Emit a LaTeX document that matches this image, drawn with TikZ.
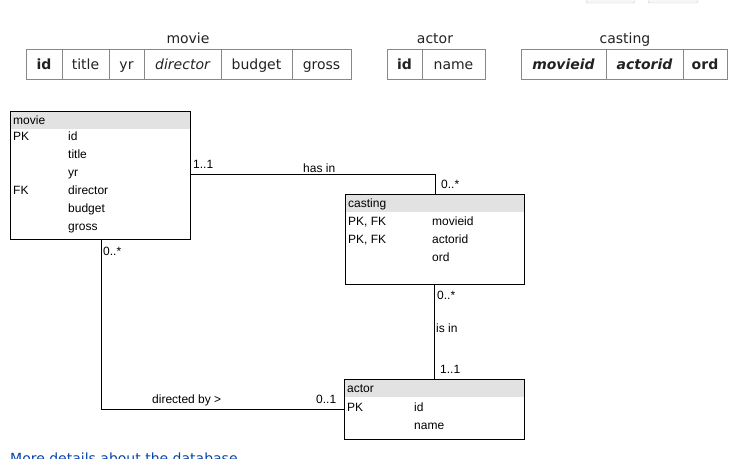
\documentclass[tikz,border=0pt]{standalone}
\usepackage{fontspec}
\newfontfamily\topfont{DejaVu Sans}
\newfontfamily\diafont{Liberation Sans}
\definecolor{tblline}{HTML}{888888}
\definecolor{tbltext}{HTML}{222222}
\definecolor{hdrgray}{HTML}{E2E2E2}
\definecolor{linkblue}{HTML}{0645AD}
\begin{document}
\begin{tikzpicture}[x=1pt,y=-1pt,
  cell/.style={draw=tblline, line width=1pt, inner sep=0pt, minimum height=30pt,
    text height=13pt, text depth=3pt, text=tbltext,
    font=\topfont\fontsize{14}{16}\selectfont},
  ttitle/.style={inner sep=0pt, anchor=base, text=tbltext,
    font=\topfont\fontsize{14}{16}\selectfont},
  entity/.style={draw=black, line width=1pt, inner sep=0pt, anchor=north west,
    path picture={\fill[hdrgray] (path picture bounding box.north west) rectangle
      ([yshift=-17pt]path picture bounding box.north east);}},
  lbl/.style={inner sep=0pt, anchor=base west, font=\diafont\fontsize{12}{14}\selectfont},
  conn/.style={draw=black, line width=1pt}
]
\useasboundingbox (0,0) rectangle (731,458);
\begin{scope}
\clip (0,0) rectangle (731,458);
% top buttons (cut off)
\draw[draw=black!20, fill=black!3, rounded corners=2pt] (586,-12) rectangle (635,3);
\draw[draw=black!20, fill=black!3, rounded corners=2pt] (648,-12) rectangle (698,3);
% bottom link (cut off)
\node[inner sep=0pt, anchor=base west, text=linkblue, font=\topfont\fontsize{14}{16}\selectfont]
  (more) at (10,463) {More details about the database};
\end{scope}

% ---------- top schema tables ----------
\node[ttitle] (tmovie) at (188,43) {movie};
\node[cell, minimum width=36pt, font=\topfont\bfseries\fontsize{14}{16}\selectfont] (mid) at (44,64) {id};
\node[cell, minimum width=47pt] (mtitle) at (85.5,64) {title};
\node[cell, minimum width=35pt] (myr) at (126.5,64) {yr};
\node[cell, minimum width=77pt, font=\topfont\itshape\fontsize{14}{16}\selectfont] (mdir) at (182.5,64) {director};
\node[cell, minimum width=71pt] (mbud) at (256.5,64) {budget};
\node[cell, minimum width=59pt] (mgross) at (321.5,64) {gross};

\node[ttitle] (tactor) at (435,43) {actor};
\node[cell, minimum width=35pt, font=\topfont\bfseries\fontsize{14}{16}\selectfont] (aid) at (404.5,64) {id};
\node[cell, minimum width=63pt] (aname) at (453.5,64) {name};

\node[ttitle] (tcast) at (625,43) {casting};
\node[cell, minimum width=85pt, font=\topfont\bfseries\itshape\fontsize{14}{16}\selectfont] (cmid) at (563.5,64) {movieid};
\node[cell, minimum width=77pt, font=\topfont\bfseries\itshape\fontsize{14}{16}\selectfont] (caid) at (644.5,64) {actorid};
\node[cell, minimum width=44pt, font=\topfont\bfseries\fontsize{14}{16}\selectfont] (cord) at (705,64) {ord};

% ---------- ER diagram ----------
\node[entity, minimum width=180pt, minimum height=128pt] (movie) at (10,111) {};
\node[lbl] (movieh) at (13,124) {movie};
\node[lbl] (moviepk) at (13,140) {PK};
\node[lbl] (moviefk) at (13,194) {FK};
\node[lbl] (m1) at (68,140) {id};
\node[lbl] (m2) at (68,158) {title};
\node[lbl] (m3) at (68,176) {yr};
\node[lbl] (m4) at (68,194) {director};
\node[lbl] (m5) at (68,212) {budget};
\node[lbl] (m6) at (68,230) {gross};

\node[entity, minimum width=179pt, minimum height=90pt] (casting) at (345,194) {};
\node[lbl] (casth) at (348,207) {casting};
\node[lbl] (castk1) at (348,225) {PK, FK};
\node[lbl] (castk2) at (348,243) {PK, FK};
\node[lbl] (c1) at (432,225) {movieid};
\node[lbl] (c2) at (432,243) {actorid};
\node[lbl] (c3) at (432,261) {ord};

\node[entity, minimum width=180pt, minimum height=60pt] (actor) at (344,379) {};
\node[lbl] (actorh) at (347,392) {actor};
\node[lbl] (actorpk) at (347,411) {PK};
\node[lbl] (a1) at (414,411) {id};
\node[lbl] (a2) at (414,429) {name};

% connectors
\coordinate (j1) at (435,174);
\draw[conn] (movie.east |- j1) -- (j1) -- (casting.north -| j1);
\node[lbl] (l11a) at (193,168) {1..1};
\node[lbl] (hasin) at (303,172) {has in};
\node[lbl] (l0a) at (441,188) {0..*};

\coordinate (j2) at (434,300);
\draw[conn] (casting.south -| j2) -- (actor.north -| j2);
\node[lbl] (l0b) at (437,299) {0..*};
\node[lbl] (isin) at (436,332) {is in};
\node[lbl] (l11b) at (440,373) {1..1};

\coordinate (j3) at (101,409);
\draw[conn] (movie.south -| j3) -- (j3) -- (actor.west |- j3);
\node[lbl] (l0c) at (103,255) {0..*};
\node[lbl] (dirby) at (152,403) {directed by >};
\node[lbl] (l01) at (316,403) {0..1};
\end{tikzpicture}
\end{document}
